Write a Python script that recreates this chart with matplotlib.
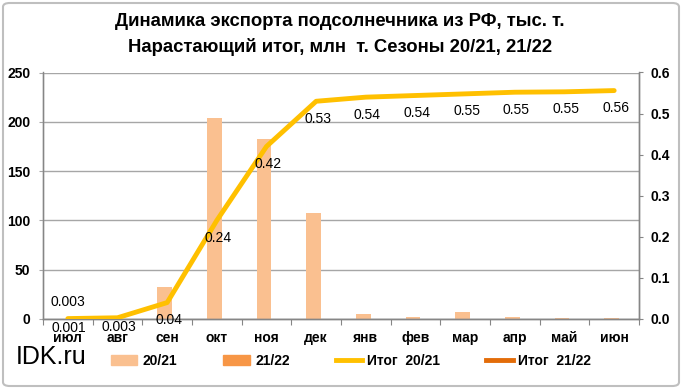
import matplotlib
matplotlib.use("Agg")
import matplotlib.pyplot as plt
import numpy as np
from matplotlib.patches import FancyBboxPatch, Patch
from matplotlib.lines import Line2D

months = ["июл", "авг", "сен", "окт", "ноя", "дек", "янв", "фев", "мар", "апр", "май", "июн"]
exp_2021 = [0.3, 0.5, 32.5, 204, 183, 108, 5.4, 2.4, 7.4, 2.4, 1.4, 1.4]
exp_2122 = [0, 0, 0, 0, 0, 0, 0, 0, 0, 0, 0, 0]
itog_2021 = [0.001, 0.003, 0.04, 0.24, 0.42, 0.53, 0.54, 0.544, 0.548, 0.552, 0.553, 0.556]
itog_2122 = [0.003]

plt.rcParams['font.family'] = ["Liberation Sans", 'DejaVu Sans']

fig = plt.figure(figsize=(6.82, 3.89), dpi=100)
L, R, B, T = 43, 639, 319, 72.5
ax = fig.add_axes([L/682, 1-B/389, (R-L)/682, (B-T)/389])
ax2 = ax.twinx()

n = len(months)
x = np.arange(n) + 0.5
bw = 0.29
ax.bar(x - 0.05, exp_2021, width=bw, color="#FAC090", zorder=2)
ax.bar(x + 0.25, exp_2122, width=bw, color="#F79646", zorder=2)
ax.set_xlim(0, n)
ax.set_ylim(0, 250)
ax.set_yticks(range(0, 251, 50))
ax.grid(axis="y", color="#A6A6A6", linewidth=1, zorder=0)
ax.set_axisbelow(True)

ax2.plot(x, itog_2021, color="#FFC000", linewidth=3.5, zorder=5, solid_capstyle="round")
ax2.set_ylim(0, 0.6)
rt = np.arange(0, 0.61, 0.1)
ax2.set_yticks(rt)
ax2.set_yticklabels([f"{v:.1f}" for v in rt])

def fmt(v):
    return f"{v:.3f}" if v < 0.01 else f"{v:.2f}"

offs = [-7, -7] + [-12.5] * (n - 2)
for xi, v, dy in zip(x, itog_2021, offs):
    ax2.annotate(fmt(v), (xi, v), xytext=(1, dy), textcoords="offset points",
                 ha="center", va="center", fontsize=10, zorder=6, annotation_clip=False)
for xi, v in zip(x[:len(itog_2122)], itog_2122):
    ax2.annotate(fmt(v), (xi, v), xytext=(0, 11), textcoords="offset points",
                 ha="center", va="center", fontsize=10, zorder=6)

ax.set_xticks(np.arange(0, n + 1))
ax.set_xticklabels([])
ax.set_xticks(x, minor=True)
ax.set_xticklabels(months, minor=True, fontsize=10, fontweight="bold")
ax.tick_params(axis="x", which="minor", length=0, pad=8.5)
ax.tick_params(axis="x", which="major", length=4, color="#868686", direction="out")
ax.tick_params(axis="y", length=3, color="#A6A6A6", labelsize=10, pad=6)
ax2.tick_params(axis="y", length=3, color="#868686", labelsize=10, direction="out", pad=5)
for t in ax.get_yticklabels() + ax2.get_yticklabels():
    t.set_fontweight("bold")

for a in (ax, ax2):
    a.spines["top"].set_visible(False)
    for s in ("left", "right", "bottom"):
        a.spines[s].set_color("#868686")
        a.spines[s].set_linewidth(1)
ax.spines["left"].set_color("#A6A6A6")

fig.text(340/682, 1-22/389, "Динамика экспорта подсолнечника из РФ, тыс. т.", ha="center", va="center",
         fontsize=13.3, fontweight="bold")
fig.text(340/682, 1-47/389, "Нарастающий итог, млн  т. Сезоны 20/21, 21/22", ha="center", va="center",
         fontsize=13.3, fontweight="bold")
fig.text(16/682, 1-357/389, "IDK.ru", ha="left", va="center", fontsize=18)

handles = [Patch(color="#FAC090"), Patch(color="#F79646"),
           Line2D([], [], color="#FFC000", linewidth=3.5),
           Line2D([], [], color="#E36C09", linewidth=3.5)]
labels = ["20/21", "21/22", "Итог  20/21", "Итог  21/22"]
leg = fig.legend(handles, labels, loc="center", bbox_to_anchor=(351/682, 1-361/389), ncol=4,
                 frameon=False, fontsize=10, handlelength=1.9, handleheight=0.75,
                 columnspacing=3.3, handletextpad=0.4)
for t in leg.get_texts():
    t.set_fontweight("bold")

border = FancyBboxPatch((3/682, 3/389), 676/682, 383/389, boxstyle="round,pad=0,rounding_size=0.01",
                        transform=fig.transFigure, fill=False, edgecolor="#BFBFBF", linewidth=1.5)
fig.patches.append(border)

fig.savefig("out.png", dpi=100)
